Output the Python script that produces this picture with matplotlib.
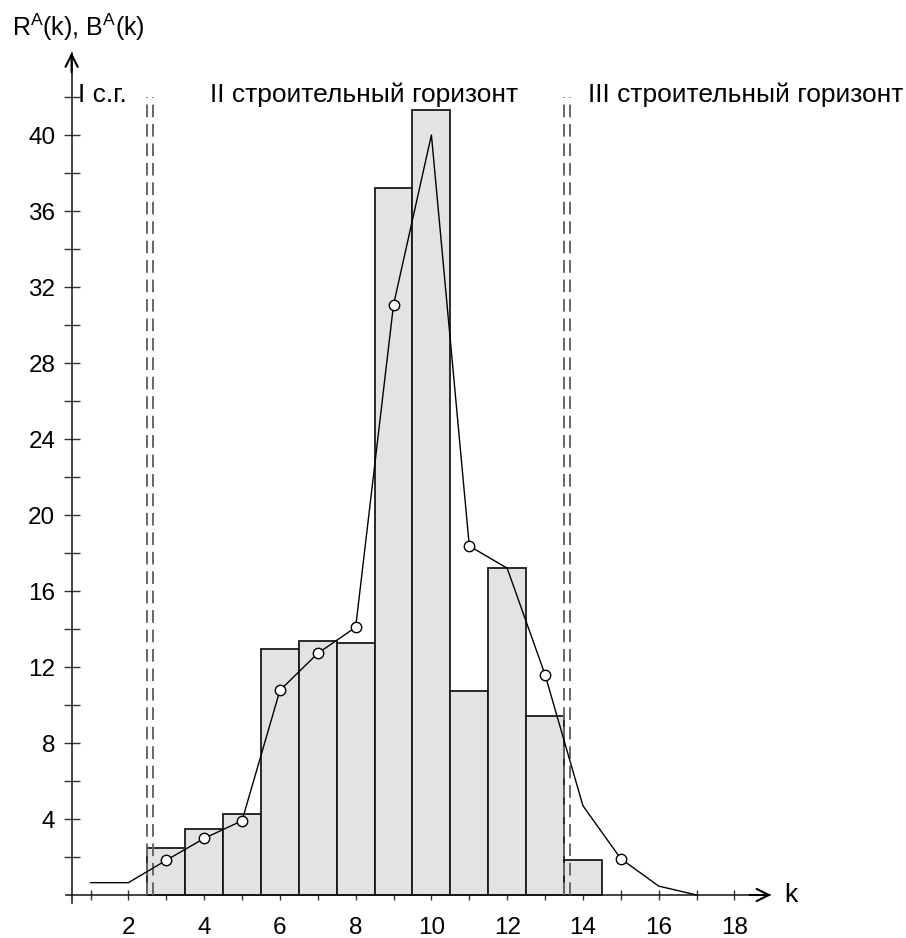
import matplotlib
matplotlib.use("Agg")
import matplotlib.pyplot as plt
from matplotlib.ticker import MultipleLocator

plt.rcParams['font.family'] = ['Liberation Sans', 'DejaVu Sans']
plt.rcParams['mathtext.fontset'] = 'custom'
plt.rcParams['mathtext.rm'] = 'Liberation Sans'
plt.rcParams['mathtext.it'] = 'Liberation Sans'

# Data
bar_k = [3, 4, 5, 6, 7, 8, 9, 10, 11, 12, 13, 14]
bar_r = [2.5, 3.45, 4.25, 12.95, 13.35, 13.25, 37.2, 41.3, 10.75, 17.2, 9.4, 1.85]

line_k = [1, 2, 3, 4, 5, 6, 7, 8, 9, 10, 11, 12, 13, 14, 15, 16, 17]
line_b = [0.65, 0.65, 1.83, 2.98, 3.91, 10.77, 12.72, 14.09, 31.07, 40.0, 18.37,
          17.2, 11.6, 4.7, 1.91, 0.47, 0.0]
marker_k = [3, 4, 5, 6, 7, 8, 9, 11, 13, 15]

boundaries = [2.49, 2.64, 13.51, 13.66]
zone_labels = ["I с.г.", "II строительный горизонт", "III строительный горизонт"]
zone_x = [0.67, 4.15, 14.13]

x_ticks = list(range(2, 19, 2))
y_ticks = list(range(4, 41, 4))

W, H = 906, 938
fig = plt.figure(figsize=(W / 100, H / 100), dpi=100)
x0_px, ppx = 71.6, 37.875
y0_px, ppy = 895, 19.0
xmin, xmax = 0.5, 19.5
ymin, ymax = -1.0, 45.5
left = x0_px / W
width = (xmax - xmin) * ppx / W
bottom = (H - (y0_px - ymin * ppy)) / H
height = (ymax - ymin) * ppy / H
ax = fig.add_axes([left, bottom, width, height])
ax.set_xlim(xmin, xmax)
ax.set_ylim(ymin, ymax)

FS_TICK = 17.5
FS_ZONE = 19
FS_LAB = 18
ax.bar(bar_k, bar_r, width=1.0, color='#e3e3e3', edgecolor='#1a1a1a', linewidth=1.3, zorder=2)

for b in boundaries:
    ax.plot([b, b], [0, 42.0], color='#666666', lw=1.4, dashes=(6.5, 3.5), zorder=3)

ax.plot(line_k, line_b, color='black', lw=1.0, zorder=4)
mk_y = [line_b[line_k.index(k)] for k in marker_k]
ax.plot(marker_k, mk_y, 'o', ms=7.5, mfc='white', mec='black', mew=1.0, zorder=5, ls='none')

for t, xx in zip(zone_labels, zone_x):
    ax.text(xx, 41.75, t, fontsize=FS_ZONE, ha='left', va='baseline', zorder=6)

for s in ['top', 'right']:
    ax.spines[s].set_visible(False)
ax.spines['left'].set_position(('data', 0.5))
ax.spines['bottom'].set_position(('data', 0))
ax.spines['left'].set_bounds(-0.4, 44.3)
ax.spines['bottom'].set_bounds(0.35, 18.95)
for s in ['left', 'bottom']:
    ax.spines[s].set_linewidth(1.1)
    ax.spines[s].set_color('#111111')

ax.set_xticks(x_ticks)
ax.set_xticks([k for k in range(1, 19)], minor=True)
ax.set_yticks(y_ticks)
ax.set_yticks(list(range(2, 44, 2)), minor=True)
ax.set_xticklabels([str(v) for v in x_ticks], fontsize=FS_TICK)
ax.set_yticklabels([str(v) for v in y_ticks], fontsize=FS_TICK)
ax.tick_params(axis='x', which='both', direction='inout', length=7.2, width=1.0, color='#333333', pad=12)
ax.tick_params(axis='y', which='both', direction='inout', length=11.5, width=1.0, color='#333333', pad=6)

# arrows
ax.annotate('', xy=(18.97, 0), xytext=(18.4, 0),
            arrowprops=dict(arrowstyle='->', lw=1.5, color='black', mutation_scale=22, shrinkA=0, shrinkB=0),
            annotation_clip=False, zorder=7)
ax.annotate('', xy=(0.5, 44.35), xytext=(0.5, 43.3),
            arrowprops=dict(arrowstyle='->', lw=1.5, color='black', mutation_scale=22, shrinkA=0, shrinkB=0),
            annotation_clip=False, zorder=7)

fig.text(12 / W, 1 - 36 / H, r'R$^{\mathrm{A}}$(k), B$^{\mathrm{A}}$(k)', fontsize=FS_LAB, ha='left', va='baseline')
fig.text(784 / W, 1 - 902 / H, 'k', fontsize=FS_LAB + 1, ha='left', va='baseline')

fig.savefig('out.png', dpi=100)
